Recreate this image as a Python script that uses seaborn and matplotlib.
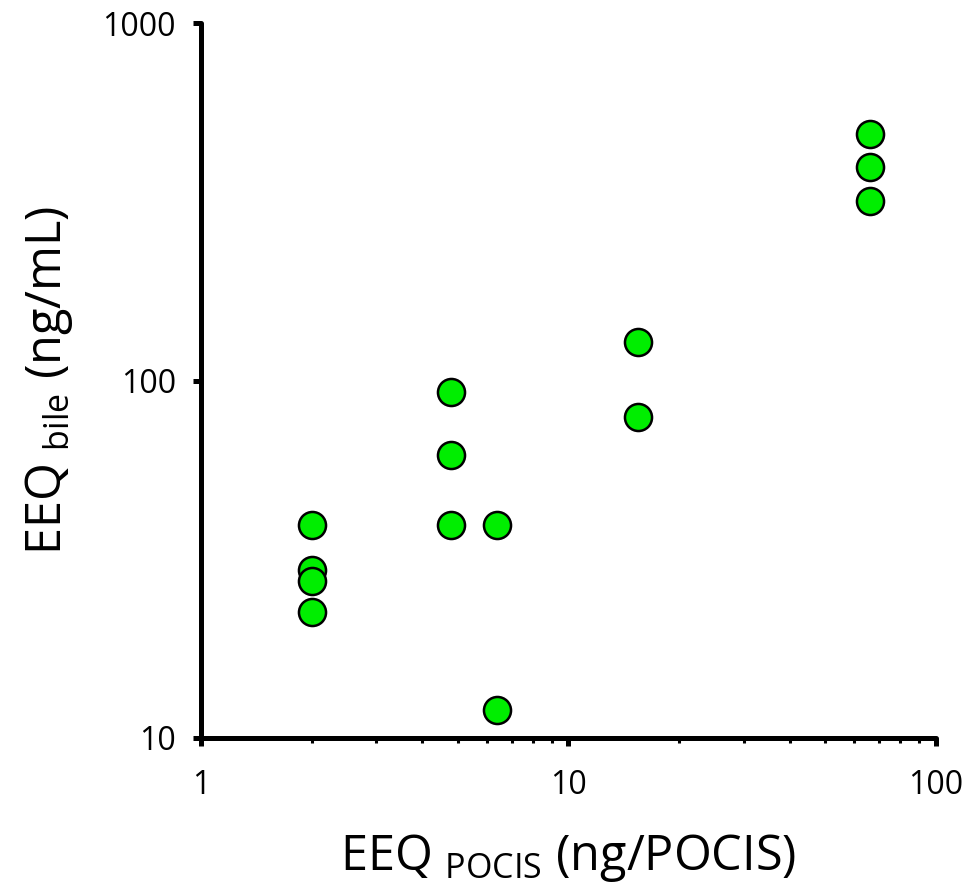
import matplotlib
matplotlib.use("Agg")
import matplotlib.pyplot as plt
import seaborn as sns
import pandas as pd
from matplotlib.ticker import FixedLocator, NullLocator, LogLocator, NullFormatter

# data (log-log scatter)
eeq_pocis = [2.0, 2.0, 2.0, 2.0, 4.8, 4.8, 4.8, 6.4, 6.4, 15.5, 15.5, 66, 66, 66]
eeq_bile = [39.5, 29.5, 27.5, 22.5, 93, 62, 39.5, 39.5, 12.0, 128, 79, 490, 395, 318]
x_ticks = [1, 10, 100]
y_ticks = [10, 100, 1000]
x_tick_labels = ["1", "10", "100"]
y_tick_labels = ["10", "100", "1000"]

df = pd.DataFrame({"x": eeq_pocis, "y": eeq_bile})

sns.set_theme(style="ticks")
plt.rcParams["font.family"] = ["Open Sans", "DejaVu Sans"]
plt.rcParams["mathtext.default"] = "regular"

fig = plt.figure(figsize=(9.78, 8.93), dpi=100)
ax = fig.add_axes([0.2055, 0.1736, 0.957 - 0.2055, 0.974 - 0.1736])

sns.scatterplot(data=df, x="x", y="y", ax=ax, s=380, color="#00ee00",
                edgecolor="black", linewidth=1.8, zorder=3, clip_on=False, legend=False)

ax.set_xscale("log")
ax.set_yscale("log")
ax.set_xlim(1, 100)
ax.set_ylim(10, 1000)

ax.xaxis.set_major_locator(FixedLocator(x_ticks))
ax.yaxis.set_major_locator(FixedLocator(y_ticks))
ax.set_xticklabels(x_tick_labels)
ax.set_yticklabels(y_tick_labels)
ax.xaxis.set_minor_locator(LogLocator(base=10, subs=range(2, 10)))
ax.xaxis.set_minor_formatter(NullFormatter())
ax.yaxis.set_minor_locator(NullLocator())

for s in ["top", "right"]:
    ax.spines[s].set_visible(False)
for s in ["left", "bottom"]:
    ax.spines[s].set_linewidth(3.6)
    ax.spines[s].set_color("black")
    ax.spines[s].set_capstyle("round")

ax.tick_params(axis="both", which="major", direction="out", length=6, width=3.6,
               color="black", labelsize=23, pad=12, labelcolor="black",
               bottom=True, left=True)
ax.tick_params(axis="x", which="minor", direction="out", length=3.5, width=2.2,
               color="black", bottom=True)
ax.tick_params(axis="x", which="major", pad=16)

ax.set_xlabel("EEQ $_{POCIS}$ (ng/POCIS)", fontsize=35, labelpad=22, color="black")
ax.set_ylabel("EEQ $_{bile}$ (ng/mL)", fontsize=35, labelpad=20, color="black")
ax.grid(False)

fig.savefig("out.png", dpi=100)
